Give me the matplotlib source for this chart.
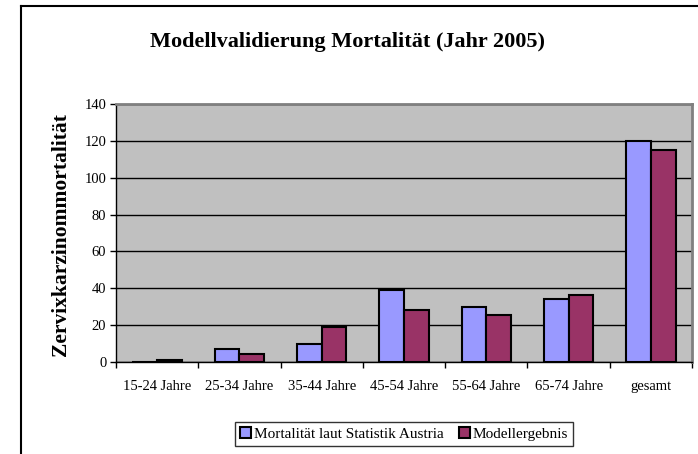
import numpy as np
import matplotlib.pyplot as plt
from matplotlib.lines import Line2D
from matplotlib.patches import Patch

categories = ['15-24 Jahre', '25-34 Jahre', '35-44 Jahre', '45-54 Jahre',
              '55-64 Jahre', '65-74 Jahre', 'gesamt']
statistik = [0, 7, 10, 39, 30, 34, 120]
modell = [1, 4.5, 19, 28, 25.5, 36.5, 115]
yticks = [0, 20, 40, 60, 80, 100, 120, 140]

plt.rcParams['font.family'] = ['Liberation Serif', 'DejaVu Serif']

W, H = 698, 454
fig = plt.figure(figsize=(W / 100, H / 100), dpi=100)
ax = fig.add_axes([116 / W, 1 - 362 / H, (692 - 116) / W, (362 - 104) / H])

x = np.arange(len(categories))
bw = 0.30
ax.bar(x - bw / 2, statistik, bw, color='#9999FF', edgecolor='black', linewidth=1.5, zorder=3)
ax.bar(x + bw / 2, modell, bw, color='#993366', edgecolor='black', linewidth=1.5, zorder=3)

ax.set_facecolor('#C0C0C0')
ax.set_xlim(-0.5, len(categories) - 0.5)
ax.set_ylim(0, 140)
ax.set_yticks(yticks)
ax.yaxis.grid(True, color='black', linewidth=1)
ax.set_axisbelow(True)

ax.set_xticks(x)
ax.set_xticklabels(categories, fontsize=10.5)
ax.tick_params(axis='x', length=0, pad=13)
ax.set_xticks(np.arange(len(categories) + 1) - 0.5, minor=True)
ax.tick_params(axis='x', which='minor', length=4, direction='out', width=1)
ax.tick_params(axis='y', length=4, direction='out', width=1, labelsize=10.5, pad=3)

for s in ['top', 'right']:
    ax.spines[s].set_color('#808080')
    ax.spines[s].set_linewidth(2)
for s in ['left', 'bottom']:
    ax.spines[s].set_color('black')
    ax.spines[s].set_linewidth(1)

fig.text(61 / W, 1 - 235 / H, 'Zervixkarzinommortalität', rotation=90,
         ha='center', va='center', fontsize=15.5, fontweight='bold')
fig.text(348 / W, 1 - 42 / H, 'Modellvalidierung Mortalität (Jahr 2005)',
         ha='center', va='center', fontsize=16, fontweight='bold')

handles = [Patch(facecolor='#9999FF', edgecolor='black', linewidth=1.5),
           Patch(facecolor='#993366', edgecolor='black', linewidth=1.5)]
fig.legend(handles, ['Mortalität laut Statistik Austria', 'Modellergebnis'],
           loc='center', bbox_to_anchor=(404 / W, 1 - 434 / H), ncol=2,
           fontsize=11, frameon=True, fancybox=False, edgecolor='black',
           handlelength=0.7, handleheight=0.7, handletextpad=0.2,
           columnspacing=1.0, borderpad=0.35, borderaxespad=0)

# outer frame (top and left only visible)
fig.add_artist(Line2D([21 / W, 1], [1 - 6 / H, 1 - 6 / H], color='black', linewidth=1.5))
fig.add_artist(Line2D([21 / W, 21 / W], [0, 1 - 6 / H], color='black', linewidth=1.5))

fig.savefig('out.png', dpi=100)
